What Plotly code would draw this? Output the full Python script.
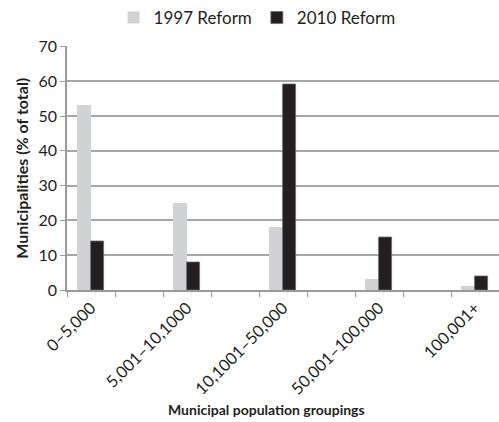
import plotly.graph_objects as go

categories = ["0–5,000", "5,001–10,1000", "10,1001–50,000", "50,001–100,000", "100,001+"]
reform_1997 = [53, 25, 18, 3, 1]
reform_2010 = [14, 8, 59, 15, 4]
y_ticks = [0, 10, 20, 30, 40, 50, 60, 70]

# categories placed on every other slot of a 9-slot axis (blank slots between)
xpos = [2 * i for i in range(len(categories))]

FONT = "Lato, 'Open Sans', sans-serif"
fig = go.Figure()
fig.add_trace(go.Bar(x=xpos, y=reform_1997, name="1997 Reform",
                     marker=dict(color="#d1d2d4", line=dict(width=0)),
                     offset=-0.29, width=0.29))
fig.add_trace(go.Bar(x=xpos, y=reform_2010, name="2010 Reform",
                     marker=dict(color="#231f20", line=dict(color="#6a6a6a", width=0.8)),
                     offset=0.0, width=0.28))

fig.update_layout(
    width=499, height=422,
    margin=dict(l=67, r=0, t=40, b=132),
    plot_bgcolor="white", paper_bgcolor="white",
    font=dict(family=FONT, size=15, color="#231f20"),
    showlegend=True,
    legend=dict(orientation="h", x=0.44, xanchor="center", xref="paper",
                y=1.0, yref="container", yanchor="top",
                font=dict(size=17), itemwidth=30, traceorder="normal"),
    bargap=0,
    xaxis=dict(
        range=[-0.5, 8.5],
        tickmode="array", tickvals=xpos, ticktext=categories,
        ticks="", tickangle=-45, tickfont=dict(size=16.5),
        showgrid=False, zeroline=False,
        showline=True, linecolor="#9a9a9a", linewidth=1.5,
        minor=dict(tickmode="array", tickvals=[x - 0.5 for x in range(10)],
                   ticks="outside", ticklen=5, tickcolor="#9a9a9a", tickwidth=1.2,
                   showgrid=False),
    ),
    yaxis=dict(
        range=[0, 70], tickmode="array", tickvals=y_ticks,
        ticks="outside", ticklen=5, tickcolor="#9a9a9a", tickwidth=1.2,
        showgrid=True, gridcolor="#a6a6a6", gridwidth=1.5,
        zeroline=False, showline=True, linecolor="#9a9a9a", linewidth=1.5,
        tickfont=dict(size=16),
        title=dict(text="<b>Municipalities (% of total)</b>", font=dict(size=16), standoff=6),
    ),
    annotations=[dict(text="<b>Municipal population groupings</b>",
                      xref="paper", yref="paper", x=(266 - 67) / 432, y=-0.49,
                      xanchor="center", yanchor="middle", showarrow=False,
                      font=dict(size=14))],
)

fig.write_html("out.html")
